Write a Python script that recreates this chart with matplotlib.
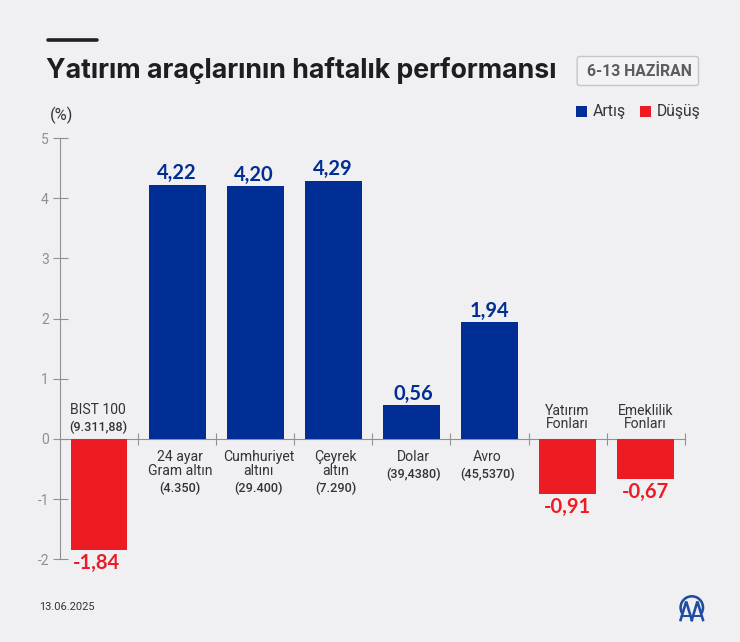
import matplotlib
matplotlib.use("Agg")
import matplotlib.pyplot as plt
from matplotlib.patches import FancyBboxPatch, Rectangle, Wedge

W, H = 740, 642
DPI = 100
BG = "#f0f0f3"
BLUE = "#002e94"
RED = "#ed1c24"
DARK = "#333338"
GREY = "#909090"

labels_main = ["BIST 100", "24 ayar\nGram altın", "Cumhuriyet\naltını", "Çeyrek\naltın",
               "Dolar", "Avro", "Yatırım\nFonları", "Emeklilik\nFonları"]
labels_sub = ["(9.311,88)", "(4.350)", "(29.400)", "(7.290)", "(39,4380)", "(45,5370)", "", ""]
values = [-1.84, 4.22, 4.20, 4.29, 0.56, 1.94, -0.91, -0.67]
y_ticks = [-2, -1, 0, 1, 2, 3, 4, 5]
title = "Yatırım araçlarının haftalık performansı"
badge = "6-13 HAZİRAN"
date = "13.06.2025"

# small horizontal nudges, in pixels, of the hand-placed labels
label_nudge = [-1, 2.7, 3.5, 2, 2, -2, 0, 0]
value_nudge = [-3, -1, -2, -1, 1.5, 0, 0, 0]

plt.rcParams["font.family"] = ["Roboto", "DejaVu Sans"]
fig = plt.figure(figsize=(W / DPI, H / DPI), dpi=DPI, facecolor=BG)

# main axes, aligned on the pixel grid of the reference
L, R, T, B = 60.3, 684.6, 138.0, 559.3
ax = fig.add_axes([L / W, 1 - B / H, (R - L) / W, (B - T) / H])
ax.patch.set_alpha(0)
ax.set_xlim(0, len(values))
ax.set_ylim(min(y_ticks), max(y_ticks))
px = 72 / DPI

xs = [i + 0.5 for i in range(len(values))]
ax.bar(xs, values, width=0.722, color=[BLUE if v > 0 else RED for v in values], zorder=3)

for s in ("top", "right"):
    ax.spines[s].set_visible(False)
ax.spines["bottom"].set_position(("data", 0))
for s in ("left", "bottom"):
    ax.spines[s].set_color(GREY)
    ax.spines[s].set_linewidth(1.1 * px)
ax.set_yticks(y_ticks)
ax.set_yticklabels([str(t) for t in y_ticks])
ax.set_xticks(range(1, len(values) + 1))
ax.set_xticklabels([])
ax.tick_params(axis="y", direction="inout", length=15 * px, width=1.1 * px, color=GREY,
               labelcolor=GREY, labelsize=10, pad=2.9)
ax.tick_params(axis="x", direction="inout", length=12 * px, width=1.1 * px, color=GREY)

MAIN = 10.1
SUB = 9.1
LS = 0.93

# value labels and category labels
for x, v, main, sub, ln, vn in zip(xs, values, labels_main, labels_sub, label_nudge, value_nudge):
    col = BLUE if v > 0 else RED
    off = 5.5 if v > 0 else -19
    ax.annotate(f"{v:.2f}".replace(".", ","), (x, v), xytext=(vn * px, off * px), textcoords="offset points",
                ha="center", va="baseline", color=col, fontsize=14.5, fontweight="bold",
                family=["Lato", "DejaVu Sans"], zorder=4)
    if v < 0:
        if sub:
            ax.annotate(main, (x, 0), xytext=(ln * px, 29 * px), textcoords="offset points", ha="center",
                        va="center", color=DARK, fontsize=MAIN, linespacing=LS)
            ax.annotate(sub, (x, 0), xytext=(ln * px, 12 * px), textcoords="offset points", ha="center",
                        va="center", color=DARK, fontsize=SUB, fontweight="medium")
        else:
            ax.annotate(main, (x, 0), xytext=(ln * px, 21.5 * px), textcoords="offset points", ha="center",
                        va="center", color=DARK, fontsize=MAIN, linespacing=LS)
    else:
        n = main.count("\n") + 1
        cy = -18 - 7 * (n - 1)
        ax.annotate(main, (x, 0), xytext=(ln * px, cy * px), textcoords="offset points", ha="center",
                    va="center", color=DARK, fontsize=MAIN, linespacing=LS)
        sy = -49 if n == 2 else -35
        ax.annotate(sub, (x, 0), xytext=(ln * px, sy * px), textcoords="offset points", ha="center",
                    va="center", color=DARK, fontsize=SUB, fontweight="medium")

# page furniture on a pixel-coordinate overlay
ov = fig.add_axes([0, 0, 1, 1], zorder=5)
ov.set_xlim(0, W)
ov.set_ylim(H, 0)
ov.axis("off")
ov.patch.set_alpha(0)

ov.plot([47.5, 97], [40.3, 40.3], color="#222226", lw=3.6 * px, solid_capstyle="round")
ov.text(46, 70, title, ha="left", va="center", fontsize=19.25, fontweight="bold", color="#1e1e22",
        family=["Inter", "DejaVu Sans"])
ov.text(62, 115.5, "(%)", ha="center", va="center", fontsize=11.8, color=DARK)

ov.add_patch(FancyBboxPatch((577.2, 56.5), 121.3, 29, boxstyle="round,pad=0,rounding_size=2.5",
                            fc="#f3f3f5", ec="#c6c6c8", lw=1.4 * px))
ov.text(639.7, 72, badge, ha="center", va="center", fontsize=11.3, fontweight="bold", color="#5c5c60")

ov.add_patch(Rectangle((576, 106), 11.3, 11.3, fc=BLUE, ec="none"))
ov.text(592.5, 111.5, "Artış", ha="left", va="center", fontsize=11.4, color=DARK)
ov.add_patch(Rectangle((640, 106), 11.3, 11.3, fc=RED, ec="none"))
ov.text(656.5, 111.5, "Düşüş", ha="left", va="center", fontsize=11.3, color=DARK)

ov.text(39, 606.5, date, ha="left", va="center", fontsize=7.9, color=DARK)

# agency mark
LOGO = "#1f4ea1"
ov.add_patch(Wedge((691.8, 607.5), 12.5, 150, 390, width=2.6, fc=LOGO, ec="none"))
for cx in (686.2, 697.4):
    ov.plot([cx - 5.6, cx, cx + 5.6], [620, 601.5, 620], color=LOGO, lw=2.6 * px, solid_joinstyle="miter")
    ov.plot([cx - 3, cx + 3], [615.5, 615.5], color=LOGO, lw=2 * px)

fig.savefig("out.png", dpi=DPI, facecolor=BG)
